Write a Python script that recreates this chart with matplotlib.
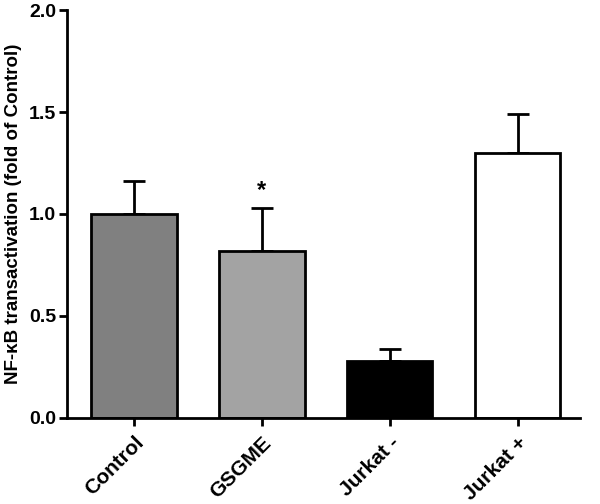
import matplotlib
matplotlib.use("Agg")
import matplotlib.pyplot as plt

categories = ["Control", "GSGME", "Jurkat -", "Jurkat +"]
means = [1.00, 0.82, 0.28, 1.30]
errors = [0.16, 0.21, 0.06, 0.19]
colors = ["#808080", "#a3a3a3", "#000000", "#ffffff"]
yticks = [0.0, 0.5, 1.0, 1.5, 2.0]

plt.rcParams['font.family'] = ['Liberation Sans', 'DejaVu Sans']
plt.rcParams['font.weight'] = 'bold'

fig = plt.figure(figsize=(6, 5.04), dpi=100)
ax = fig.add_axes([0.112, 0.171, 0.855, 0.809])

x = list(range(len(categories)))
ax.bar(x, means, width=0.67, color=colors, edgecolor="black", linewidth=2, zorder=2)
ax.errorbar(x, means, yerr=[[0]*len(errors), errors], fmt='none', ecolor='black',
            elinewidth=2, capsize=8, capthick=2, zorder=1)

ax.text(1, means[1] + errors[1] + 0.03, "*", ha='center', va='bottom', fontsize=17, fontweight='bold')

ax.set_xlim(-0.52, 3.49)
ax.set_ylim(0, 2.0)
ax.set_yticks(yticks)
ax.set_yticklabels([f"{v:.1f}" for v in yticks], fontsize=14, fontweight='bold')
ax.set_xticks(x)
ax.set_xticklabels(categories, rotation=45, ha='right', rotation_mode='anchor',
                   fontsize=15, fontweight='bold')
ax.set_ylabel("NF-\u03baB transactivation (fold of Control)", fontsize=13.5, fontweight='bold', labelpad=5)

for s in ['top', 'right']:
    ax.spines[s].set_visible(False)
for s in ['left', 'bottom']:
    ax.spines[s].set_linewidth(2)
ax.tick_params(axis='both', direction='out', length=6, width=2)
ax.tick_params(axis='x', pad=5)
ax.tick_params(axis='y', pad=2)

fig.savefig("out.png", dpi=100)
